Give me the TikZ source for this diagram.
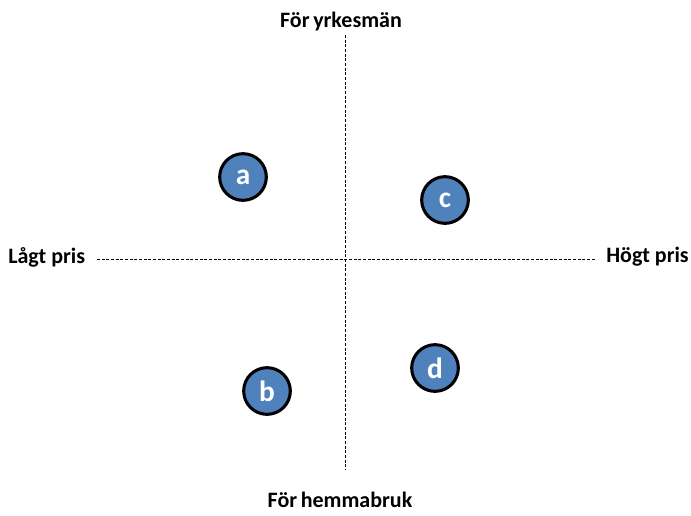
\documentclass[tikz,border=0pt]{standalone}
\usepackage{fontspec}
\setmainfont{Carlito}
\definecolor{dotblue}{HTML}{4F81BD}
\begin{document}
\begin{tikzpicture}[x=0.75pt,y=-0.75pt,
  axis/.style={line width=0.6pt,dash pattern=on 2.2pt off 1.3pt},
  axlabel/.style={font=\bfseries\fontsize{16.5}{18}\selectfont,inner sep=0pt},
  dot/.style={circle,fill=dotblue,draw=black,line width=2.3pt,minimum size=35pt,inner sep=0pt,
    text=white,font=\bfseries\fontsize{22}{24}\selectfont}]
  \useasboundingbox (0,0) rectangle (691,515);
  % axis end points
  \coordinate (top) at (345,35);
  \coordinate (bot) at (345,470);
  \coordinate (lft) at (97,259);
  \coordinate (rgt) at (595,259);
  \draw[axis] (top) -- (bot);
  \draw[axis] (lft) -- (rgt);
  % axis labels
  \node[axlabel] (up) at (341,22) {För\,yrkesmän};
  \node[axlabel] (down) at (340,500) {För\,hemmabruk};
  \node[axlabel,anchor=west] (low) at (8,257) {Lågt pris};
  \node[axlabel,anchor=east] (high) at (689,257) {Högt pris};
  % products
  \node[dot] (a) at (243,177) {a};
  \node[dot] (c) at (445,200) {c};
  \node[dot] (b) at (267,391) {b};
  \node[dot] (d) at (435,368) {d};
\end{tikzpicture}
\end{document}
